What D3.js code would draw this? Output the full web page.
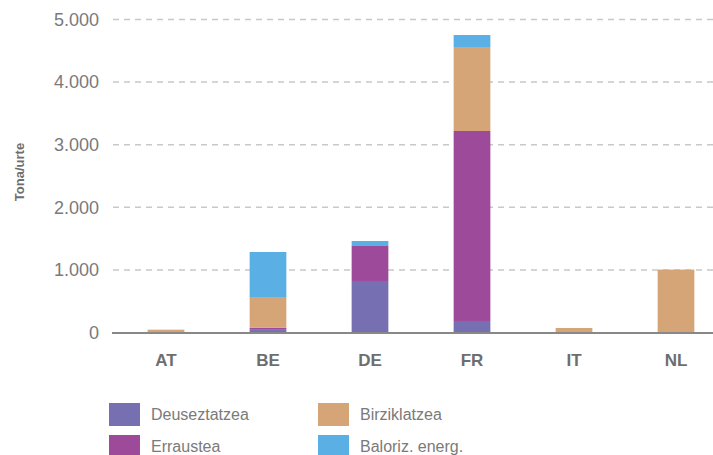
<!DOCTYPE html>
<html>
<head>
<meta charset="utf-8">
<script src="https://cdn.jsdelivr.net/npm/d3@7"></script>
<style>
  body { margin: 0; background: #fff; }
  svg { display: block; font-family: "Liberation Sans", Arial, sans-serif; }
</style>
</head>
<body>
<svg id="chart" width="713" height="455"></svg>
<script>
const countries = ["AT", "BE", "DE", "FR", "IT", "NL"];
const seriesNames = ["Deuseztatzea", "Erraustea", "Birziklatzea", "Baloriz. energ."];
const deuseztatzea = [0, 43, 823, 184, 0, 0];
const erraustea = [0, 32, 559, 3035, 0, 0];
const birziklatzea = [45, 480, 0, 1342, 72, 1005];
const baloriz = [0, 731, 80, 191, 0, 0];
const yTicks = [0, 1000, 2000, 3000, 4000, 5000];
const colors = ["#7670b3", "#9d4a9a", "#d6a577", "#5ab0e4"];

const rows = countries.map((c, i) => ({
  country: c,
  "Deuseztatzea": deuseztatzea[i],
  "Erraustea": erraustea[i],
  "Birziklatzea": birziklatzea[i],
  "Baloriz. energ.": baloriz[i]
}));

const svg = d3.select("#chart");

// bands run a bit past the right edge, as in the original
const x = d3.scaleBand()
  .domain(countries)
  .range([115, 727])
  .paddingInner(0.64)
  .paddingOuter(0.32);

const y = d3.scaleLinear()
  .domain([0, 5000])
  .range([332.5, 19.5]);

// grid
svg.append("g")
  .selectAll("line")
  .data(yTicks.filter(d => d > 0))
  .enter()
  .append("line")
  .attr("x1", 113)
  .attr("x2", 713)
  .attr("y1", d => y(d))
  .attr("y2", d => y(d))
  .attr("stroke", "#c8c8c8")
  .attr("stroke-width", 1.5)
  .attr("stroke-dasharray", "6,5");

// tick labels
svg.append("g")
  .selectAll("text")
  .data(yTicks)
  .enter()
  .append("text")
  .attr("x", 99)
  .attr("y", d => y(d))
  .attr("dy", "0.35em")
  .attr("text-anchor", "end")
  .attr("font-size", 18)
  .attr("fill", "#7a7a7a")
  .text(d => d3.format(",")(d).replace(/,/g, "."));

const stack = d3.stack().keys(seriesNames)(rows);

svg.append("g")
  .selectAll("g")
  .data(stack)
  .enter()
  .append("g")
  .attr("fill", (d, i) => colors[i])
  .selectAll("rect")
  .data(d => d)
  .enter()
  .append("rect")
  .attr("x", d => x(d.data.country))
  .attr("width", x.bandwidth())
  .attr("y", d => y(d[1]))
  .attr("height", d => y(d[0]) - y(d[1]));

// x axis line
svg.append("line")
  .attr("x1", 112)
  .attr("x2", 713)
  .attr("y1", 333)
  .attr("y2", 333)
  .attr("stroke", "#888")
  .attr("stroke-width", 2);

// category labels
svg.append("g")
  .selectAll("text")
  .data(countries)
  .enter()
  .append("text")
  .attr("x", d => x(d) + x.bandwidth() / 2)
  .attr("y", 360)
  .attr("dy", "0.35em")
  .attr("text-anchor", "middle")
  .attr("font-size", 17)
  .attr("font-weight", "bold")
  .attr("fill", "#6e6e6e")
  .text(d => d);

// y title
svg.append("text")
  .attr("transform", "translate(24,172) rotate(-90)")
  .attr("text-anchor", "middle")
  .attr("font-size", 13)
  .attr("font-weight", "bold")
  .attr("fill", "#6e6e6e")
  .text("Tona/urte");

// legend
const legend = svg.append("g")
  .selectAll("g")
  .data(seriesNames)
  .enter()
  .append("g")
  .attr("transform", (d, i) => `translate(${109 + Math.floor(i / 2) * 209},${403 + (i % 2) * 32})`);

legend.append("rect")
  .attr("width", 31)
  .attr("height", 23)
  .attr("fill", (d, i) => colors[i]);

legend.append("text")
  .attr("x", 42)
  .attr("y", 11.5)
  .attr("dy", "0.35em")
  .attr("font-size", 16)
  .attr("fill", "#7a7a7a")
  .text(d => d);
</script>
</body>
</html>
